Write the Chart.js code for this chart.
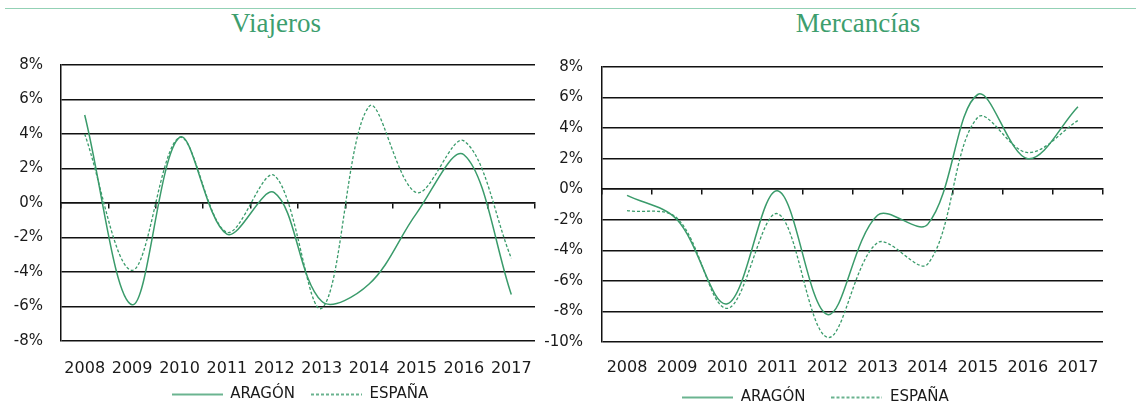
<!DOCTYPE html>
<html>
<head>
<meta charset="utf-8">
<script src="https://cdn.jsdelivr.net/npm/chart.js@4/dist/chart.umd.min.js"></script>
<style>
  html, body { margin: 0; padding: 0; background: #fff; width: 1136px; height: 408px; overflow: hidden; position: relative; }
  .topline { position: absolute; left: 5px; right: 0; top: 8px; height: 1px; background: #93d1b5; }
  .title { position: absolute; top: 8px; font-family: "Liberation Serif", "Times New Roman", serif; font-size: 27px; color: #3d9e6e; text-align: center; white-space: nowrap; }
  canvas.chart { position: absolute; top: 0; }
</style>
</head>
<body>
<div class="topline"></div>
<div class="title" style="left:176px;width:200px;">Viajeros</div>
<div class="title" style="left:758px;width:200px;">Mercancías</div>
<canvas class="chart" id="c1" width="600" height="412" style="left:0px"></canvas>
<canvas class="chart" id="c2" width="608" height="415" style="left:528px"></canvas>
<script>
const years = ['2008','2009','2010','2011','2012','2013','2014','2015','2016','2017'];
const seriesNames = ['ARAGÓN', 'ESPAÑA'];
const viajerosAragon = [5.1, -5.9, 3.8, -1.8, 0.6, -5.7, -4.7, -0.6, 2.8, -5.3];
const viajerosEspana = [4.0, -3.9, 3.8, -1.7, 1.6, -6.1, 5.6, 0.6, 3.6, -3.2];
const mercanciasAragon = [-0.4, -2.0, -7.5, -0.1, -8.2, -1.7, -2.3, 6.2, 2.0, 5.4];
const mercanciasEspana = [-1.4, -1.9, -7.8, -1.6, -9.7, -3.5, -4.9, 4.7, 2.4, 4.5];
const viajerosYTicks = [-8, -6, -4, -2, 0, 2, 4, 6, 8];
const mercanciasYTicks = [-10, -8, -6, -4, -2, 0, 2, 4, 6, 8];

const GREEN = '#3a9b6b';
const FONT = '"DejaVu Sans", sans-serif';
const SAMPLE_W = 51;

// legend sample glyphs (solid / dashed line)
function lineSample(dash, width) {
  const c = document.createElement('canvas');
  c.width = SAMPLE_W; c.height = 4;
  const g = c.getContext('2d');
  g.strokeStyle = GREEN;
  g.lineWidth = width;
  g.setLineDash(dash);
  g.beginPath();
  g.moveTo(0, 2);
  g.lineTo(SAMPLE_W, 2);
  g.stroke();
  return c;
}
const solidSample = lineSample([], 1.6);
const dashedSample = lineSample([3, 2], 1.4);

function makeChart(id, aragon, espana, yTicks, cfg) {
  const scales = {
    x: {
      type: 'category',
      position: 'bottom',
      offset: true,
      grid: { display: false, drawTicks: false },
      border: { display: false },
      // mirror disables the label clip box; (negative) padding places the label centre below the plot
      ticks: { color: '#1a1a1a', font: { family: FONT, size: 16 }, mirror: true, padding: cfg.xPad, maxRotation: 0, autoSkip: false },
      afterFit: s => { s.height = cfg.xHeight; }
    },
    x0: {
      type: 'category',
      labels: years,
      position: { y: 0 },
      offset: true,
      grid: { display: true, drawOnChartArea: false, drawTicks: true, tickLength: 5, offset: true, color: '#111', lineWidth: 1.5 },
      border: { display: true, color: '#111', width: 1.5 },
      ticks: { display: false }
    },
    y: {
      position: 'left',
      min: yTicks[0],
      max: yTicks[yTicks.length - 1],
      afterBuildTicks: s => { s.ticks = yTicks.map(v => ({ value: v })); },
      grid: { color: '#111', lineWidth: 1.5, drawTicks: false },
      border: { display: true, color: '#111', width: 1.5 },
      ticks: { color: '#1a1a1a', font: { family: FONT, size: 15 }, padding: cfg.yPad, callback: v => v + '%' },
      afterFit: s => { s.width = cfg.yWidth; }
    }
  };
  if (cfg.spacer) {
    // empty right-hand box: keeps the plot edge while the legend is centred on the wider canvas
    scales.ySpacer = {
      position: 'right',
      min: yTicks[0],
      max: yTicks[yTicks.length - 1],
      grid: { display: false, drawTicks: false },
      border: { display: false },
      ticks: { display: false },
      afterFit: s => { s.width = cfg.spacer; }
    };
  }
  return new Chart(document.getElementById(id), {
    type: 'line',
    data: {
      labels: years,
      datasets: [
        { label: seriesNames[0], data: aragon, borderColor: GREEN, backgroundColor: GREEN, borderWidth: 1.5,
          pointRadius: 0, pointStyle: solidSample, tension: 0.35, fill: false, xAxisID: 'x', yAxisID: 'y' },
        { label: seriesNames[1], data: espana, borderColor: GREEN, backgroundColor: GREEN, borderWidth: 1.3,
          borderDash: [3, 2], pointRadius: 0, pointStyle: dashedSample, tension: 0.35, fill: false, xAxisID: 'x', yAxisID: 'y' }
      ]
    },
    options: {
      responsive: false,
      animation: false,
      devicePixelRatio: 1,
      layout: { padding: { top: cfg.top, right: cfg.right, left: 0, bottom: 0 } },
      plugins: {
        title: { display: false },
        tooltip: { enabled: false },
        legend: {
          display: true,
          position: 'bottom',
          fullSize: true,
          labels: {
            usePointStyle: true,
            pointStyleWidth: SAMPLE_W,
            padding: cfg.legendPad,
            color: '#1a1a1a',
            font: { family: FONT, size: 15 }
          }
        }
      },
      scales
    }
  });
}

makeChart('c1', viajerosAragon, viajerosEspana, viajerosYTicks,
  { top: 65, right: 0, spacer: 65, xHeight: 30, xPad: -37.6, yWidth: 61, yPad: 18, legendPad: 16 });
makeChart('c2', mercanciasAragon, mercanciasEspana, mercanciasYTicks,
  { top: 67, right: 33, spacer: 0, xHeight: 22, xPad: -35.6, yWidth: 74, yPad: 19, legendPad: 26 });
</script>
</body>
</html>
